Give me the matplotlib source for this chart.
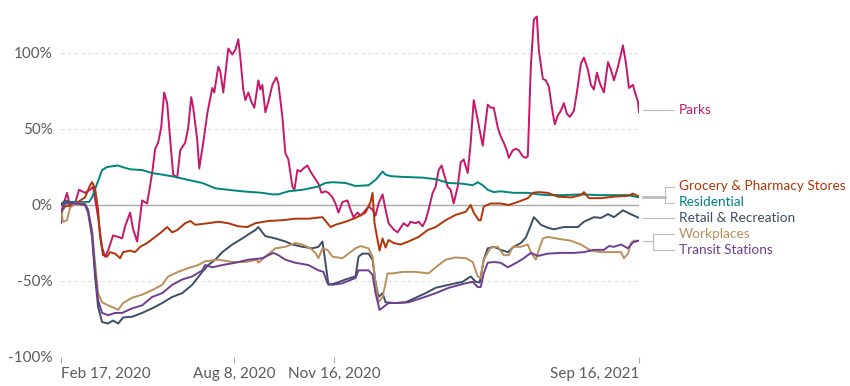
import numpy as np
import matplotlib.pyplot as plt
from matplotlib.lines import Line2D

plt.rcParams['font.family'] = ['Lato', 'DejaVu Sans']

start = np.datetime64("2020-02-17")

# day offsets from Feb 17, 2020 and % change from baseline
parks_days = [0, 1, 6, 9, 14, 18, 24, 29, 32, 37, 41, 44, 47, 52, 57, 61, 64, 69, 72, 76,
              79, 81, 86, 91, 94, 97, 100, 103, 106, 109, 112, 116, 119, 124, 127, 130, 132,
              136, 138, 142, 146, 151, 153, 157, 159, 162, 167, 171, 174, 177, 179, 182, 184,
              187, 190, 193, 197, 199, 201, 204, 207, 211, 215, 217, 221, 224, 227, 231, 233,
              236, 239, 242, 246, 249, 253, 257, 260, 264, 267, 271, 274, 277, 281, 286, 289,
              292, 296, 299, 302, 307, 311, 314, 317, 321, 324, 327, 332, 336, 339, 342, 346,
              349, 354, 357, 361, 364, 367, 371, 374, 377, 380, 382, 386, 389, 392, 396, 399,
              402, 406, 409, 412, 416, 421, 426, 429, 432, 436, 439, 442, 445, 447, 451, 454,
              457, 461, 464, 466, 469, 472, 475, 477, 481, 484, 487, 491, 493, 496, 499, 502,
              505, 508, 512, 515, 519, 522, 526, 529, 532, 535, 538, 542, 546, 549, 552, 556,
              561, 564, 567, 571, 573, 576, 577]
parks = [-12, -3, 8, -1, 1, 10, 8, 10, 12, -8, -28, -34, -30, -20, -21, -22, -14, -5, -16, -24,
         -8, 3, 1, 21, 37, 41, 51, 74, 67, 43, 20, 18, 36, 41, 51, 71, 64,
         43, 24, 41, 60, 77, 74, 91, 88, 74, 103, 99, 102, 109, 97, 76, 69,
         74, 68, 64, 82, 76, 79, 61, 68, 79, 84, 80, 58, 34, 30, 12, 10,
         23, 22, 24, 26, 22, 18, 14, 8, 9, 8, 5, 1, -5, 2, 3, -3,
         -8, -5, -7, -5, -1, -3, -7, 1, 7, -3, -12, -16, -18, -15, -12, -14,
         -11, -12, -11, -14, -10, -3, 8, 12, 23, 26, 21, 12, 10, 1, 12, 28,
         30, 21, 41, 69, 56, 39, 66, 64, 64, 51, 45, 41, 36, 31, 36, 37,
         36, 32, 31, 32, 91, 122, 124, 102, 83, 82, 78, 60, 53, 59, 62, 67,
         60, 58, 62, 74, 93, 97, 89, 79, 76, 87, 80, 74, 94, 89, 82, 91,
         105, 93, 77, 79, 74, 68, 61]

grocery_days = [0, 4, 11, 17, 24, 29, 31, 34, 37, 39, 42, 46, 49, 54, 59, 62, 69, 74, 79, 86,
                92, 99, 106, 111, 116, 124, 129, 134, 147, 157, 167, 177, 186, 194, 207, 221,
                234, 247, 261, 266, 269, 274, 284, 294, 304, 309, 311, 313, 316, 318, 321, 324,
                327, 332, 339, 347, 357, 366, 374, 384, 394, 404, 409, 412, 417, 419, 422, 429,
                439, 447, 456, 466, 471, 477, 486, 496, 509, 519, 522, 527, 539, 552, 566, 571,
                577]
grocery = [-5, -1, 0, 2, 5, 13, 15, 11, -3, -21, -33, -34, -31, -32, -35, -31, -30, -31, -27.5, -25,
           -22, -18.5, -14.5, -18, -16.5, -12, -10.5, -13, -12, -11, -12, -14, -14.5, -12, -10.5, -10,
           -9, -9, -8, -12, -14.5, -13, -11, -8.5, -5, 2, 8, -12, -23, -30, -22, -28,
           -23, -25, -26, -24, -21, -16.5, -14.5, -10, -6.5, -4.5, 0, -5, -10, -10, -1, 1,
           1, 0, 2, 4.5, 8, 8.5, 8, 5.5, 5, 6.5, 8.5, 4.5, 4.5, 5.5, 6, 7.5,
           5.5]

residential_days = [0, 12, 28, 31, 36, 41, 46, 57, 61, 69, 81, 91, 101, 114, 127, 141, 154, 167,
                    181, 201, 211, 217, 227, 241, 256, 264, 271, 284, 294, 307, 314, 321, 324,
                    329, 341, 361, 374, 387, 401, 411, 416, 421, 426, 432, 439, 452, 466, 476,
                    486, 502, 519, 536, 552, 566, 577]
residential = [1, 2, 2, 5, 14, 23, 25, 26, 25, 23.5, 23, 21, 20, 18.5, 16.5, 14.5, 11, 10,
               9, 8, 7, 7, 9, 10, 12, 14.5, 15, 14.5, 12.5, 13, 16.5, 22, 20,
               19, 18.5, 18, 17, 14.5, 14, 13, 15, 13, 10, 8.5, 9, 8, 8, 7,
               6.5, 6.5, 7, 6.5, 6.5, 6.5, 5]

retail_days = [0, 4, 14, 24, 27, 31, 34, 37, 41, 47, 52, 57, 62, 71, 81, 91, 101, 111, 121, 131,
               141, 147, 154, 161, 171, 181, 189, 194, 197, 201, 204, 214, 224, 231, 241, 251,
               257, 261, 264, 267, 274, 284, 294, 297, 301, 307, 311, 314, 317, 321, 324, 334,
               344, 354, 364, 374, 387, 401, 409, 414, 418, 422, 426, 432, 439, 446, 452, 459,
               464, 468, 472, 475, 479, 486, 492, 502, 516, 522, 532, 539, 546, 552, 561, 567,
               577]
retail = [0, 3, 1, 0, -5, -21, -47, -67, -77, -78, -76, -78, -74, -73.5, -71, -68, -64.5, -60.5, -58, -52.5,
          -44, -39.5, -36, -31, -26, -22, -18.5, -16.5, -14.5, -18, -20.5, -22, -24, -26, -27.5, -28.5,
          -27.5, -24, -38, -52.5, -51.5, -49, -47, -34, -32, -32, -36, -51, -60.5, -58, -64, -64.5,
          -64, -61, -58, -54.5, -52.5, -50.5, -47, -50.5, -51, -36, -28.5, -27.5, -29.5, -31, -27.5, -25,
          -21.5, -15, -8, -10, -13, -15, -16, -14.5, -14.5, -11, -8, -8.5, -6, -8, -3.5, -5.5,
          -8.5]

workplaces_days = [0, 2, 6, 9, 14, 24, 27, 31, 34, 37, 41, 47, 54, 57, 62, 71, 81, 91, 101, 107,
                   117, 127, 137, 144, 157, 171, 184, 196, 197, 204, 214, 224, 234, 241, 249, 254,
                   257, 261, 266, 271, 281, 294, 299, 307, 311, 314, 317, 321, 324, 326, 331, 341,
                   354, 367, 374, 384, 394, 404, 411, 416, 419, 422, 429, 436, 442, 447, 451, 459,
                   466, 469, 474, 477, 481, 486, 499, 509, 519, 529, 539, 552, 559, 562, 566, 569,
                   572, 577]
workplaces = [-3, -11, -10, -2, 1, 1, -3, -16.5, -38, -58, -64, -66, -68, -69, -64.5, -61, -59, -56, -52.5, -47,
              -44, -41.5, -39.5, -37, -36, -37.5, -37.5, -36, -38, -34, -28.5, -27.5, -25, -26, -28.5, -31.5,
              -35, -28.5, -29.5, -34, -35, -28.5, -27, -28.5, -34, -51.5, -64, -60.5, -51.5, -45, -45, -44,
              -44, -45, -41, -36, -34.5, -35, -37.5, -47, -48, -36, -28, -27.5, -33, -33, -27.5, -27.5,
              -26, -31, -36, -29.5, -22, -21, -22.5, -23.5, -26, -30, -31, -31, -31, -35, -32, -25,
              -23.5, -23.5]

transit_days = [0, 4, 14, 24, 27, 31, 34, 37, 41, 47, 54, 61, 71, 81, 91, 101, 111, 121, 131, 141,
                144, 151, 161, 174, 187, 201, 212, 217, 224, 234, 247, 257, 262, 266, 271, 281,
                294, 297, 307, 311, 314, 318, 322, 327, 334, 347, 361, 374, 387, 401, 411, 416,
                419, 422, 426, 432, 439, 446, 456, 462, 469, 476, 486, 499, 512, 522, 532, 542,
                547, 552, 559, 566, 571, 577]
transit = [-4.5, 1, 1, 0.5, -3.5, -18.5, -43, -62.5, -71, -72.5, -71, -71, -68, -66, -60.5, -58, -52.5, -49, -47, -43,
           -39.5, -41, -39.5, -38, -36, -35, -31.5, -33, -36, -38, -39.5, -43, -44, -51.5, -52.5, -51.5,
           -48, -43, -43, -46, -58, -69, -67, -64.5, -64.5, -64, -61, -58, -54.5, -52, -50.5, -54,
           -54, -45, -38, -37.5, -38, -41, -37.5, -35, -31.5, -33.5, -32, -31.5, -31.5, -31, -29.5, -29.5,
           -27, -27.5, -26, -28.5, -24.5, -23.5]

series = [
    ("Parks", parks_days, parks, "#c6176b"),
    ("Residential", residential_days, residential, "#00847e"),
    ("Grocery & Pharmacy Stores", grocery_days, grocery, "#b13507"),
    ("Retail & Recreation", retail_days, retail, "#3c4e66"),
    ("Workplaces", workplaces_days, workplaces, "#bc8e5a"),
    ("Transit Stations", transit_days, transit, "#6d3e91"),
]

W, H = 850, 386
fig = plt.figure(figsize=(W / 100, H / 100), dpi=100)
ax = fig.add_axes([61 / W, 1 - 357 / H, (639 - 61) / W, (357 - 15) / H])

for val in [100, 50, -50, -100]:
    ax.axhline(val, color="#dddddd", lw=0.8, dashes=(3, 3), zorder=0)
ax.axhline(0, color="#a8a8a8", lw=1.0, zorder=0)

for name, days, vals, color in series:
    dates = start + np.array(days).astype("timedelta64[D]")
    ax.plot(dates, vals, color=color, lw=1.4, solid_joinstyle="round")

ax.set_xlim(start, start + np.timedelta64(577, "D"))
ax.set_ylim(-100, 125)
for s in ax.spines.values():
    s.set_visible(False)

ax.set_yticks([-100, -50, 0, 50, 100])
ax.set_yticklabels(["-100%", "-50%", "0%", "50%", "100%"])
ax.tick_params(axis="y", length=0, pad=6, labelsize=11, labelcolor="#5b5b5b")

tick_dates = [np.datetime64(d) for d in ["2020-02-17", "2020-08-08", "2020-11-16", "2021-09-16"]]
ax.set_xticks(tick_dates)
ax.set_xticklabels(["Feb 17, 2020", "Aug 8, 2020", "Nov 16, 2020", "Sep 16, 2021"])
ax.tick_params(axis="x", length=4, width=0.8, color="#aaaaaa", pad=3,
               labelsize=11, labelcolor="#5b5b5b")
xl = ax.get_xticklabels()
xl[0].set_ha("left")
xl[-1].set_ha("right")


def fx(px):
    return px / W


def fy(py):
    return 1 - py / H


def seg(x0, y0, x1, y1, lw=0.8):
    fig.add_artist(Line2D([fx(x0), fx(x1)], [fy(y0), fy(y1)], color="#bbbbbb", lw=lw))


# right-hand labels with connectors
seg(643, 110, 674, 110)
seg(643, 197, 665, 197, lw=2.0)
seg(665, 187, 665, 203)
seg(665, 187, 674, 187)
seg(665, 203, 674, 203)
seg(643, 218, 674, 218)
seg(643, 241, 653, 241)
seg(653, 234, 653, 250)
seg(653, 234, 674, 234)
seg(653, 250, 674, 250)

labels = [("Parks", 110, "#c6176b"),
          ("Grocery & Pharmacy Stores", 186, "#b13507"),
          ("Residential", 202, "#00847e"),
          ("Retail & Recreation", 218, "#3c4e66"),
          ("Workplaces", 234, "#bc8e5a"),
          ("Transit Stations", 250, "#6d3e91")]
for text, py, color in labels:
    fig.text(fx(679), fy(py), text, color=color, fontsize=9.8, va="center", ha="left")

fig.savefig("out.png", dpi=100)
